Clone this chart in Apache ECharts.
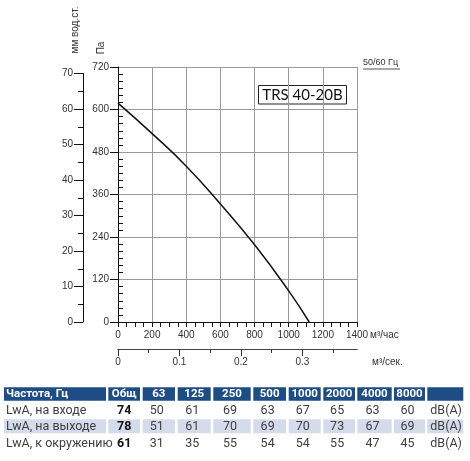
<!DOCTYPE html>
<html>
<head>
<meta charset="utf-8">
<script src="https://cdn.jsdelivr.net/npm/echarts@6/dist/echarts.min.js"></script>
<style>
  html, body { margin: 0; padding: 0; background: #fff; }
  #chart { width: 470px; height: 461px; }
</style>
</head>
<body>
<div id="chart"></div>
<script>
// характеристика вентилятора
const flowM3h = [0, 200, 400, 600, 800, 1000, 1120]
const pressurePa = [618, 532, 440, 333, 218, 88, 0]

// шкала м3/сек
const flowSecMajor = [0, 0.1, 0.2, 0.3]
const flowSecMinor = [0.05, 0.15, 0.25, 0.35]

// таблица шума
const tableHeader = ['Частота, Гц', 'Общ', '63', '125', '250', '500', '1000', '2000', '4000', '8000', '']
const rowNames = ['LwA, на входе', 'LwA, на выходе', 'LwA, к окружению']
const totalLw = [74, 78, 61]
const inletLw = [50, 61, 69, 63, 67, 65, 63, 60]
const outletLw = [51, 61, 70, 69, 70, 73, 67, 69]
const surroundLw = [31, 35, 55, 54, 54, 55, 47, 45]
const unitLabel = 'dB(A)'

const FONT = 'Liberation Sans'
const TFONT = 'Roboto'

const myChart = echarts.init(document.getElementById('chart'))

// колонки таблицы [x0, x1]
const cols = [
  [4, 106], [108.3, 140], [142.7, 175], [177.7, 210.7], [213.3, 250.7],
  [253.3, 286], [288.7, 320.7], [323.3, 355], [357.3, 391.7], [394, 425], [427.3, 463.3]
]
const headerRow = { y: 387.3, h: 13.4 }
const bodyRows = [{ y: 403, h: 14 }, { y: 419.3, h: 14 }, { y: 436, h: 14 }]

const buildTable = () => {
  const els = []
  cols.forEach((c, i) => {
    els.push({
      type: 'rect',
      shape: { x: c[0], y: headerRow.y, width: c[1] - c[0], height: headerRow.h },
      style: { fill: '#1d4d84' }
    })
    els.push({
      type: 'rect',
      shape: { x: c[0], y: bodyRows[1].y, width: c[1] - c[0], height: bodyRows[1].h },
      style: { fill: '#d4dbeb' }
    })
    els.push({
      type: 'text',
      x: i === 0 ? c[0] + 2 : (c[0] + c[1]) / 2,
      y: headerRow.y + headerRow.h / 2 + 0.5,
      style: {
        text: tableHeader[i],
        fill: '#fff',
        font: `bold 11.5px ${TFONT}`,
        align: i === 0 ? 'left' : 'center',
        verticalAlign: 'middle'
      }
    })
  })
  const bands = [inletLw, outletLw, surroundLw]
  bodyRows.forEach((r, ri) => {
    const cy = r.y + r.h / 2 + 0.5
    const cells = [rowNames[ri], totalLw[ri]].concat(bands[ri]).concat([unitLabel])
    cells.forEach((v, ci) => {
      const c = cols[ci]
      let x = (c[0] + c[1]) / 2 - 2
      let align = 'center'
      if (ci === 0) { x = c[0] + 2; align = 'left' }
      if (ci === 1) x = (c[0] + c[1]) / 2
      if (ci === cols.length - 1) { x = c[0] + 3; align = 'left' }
      els.push({
        type: 'text',
        x: x,
        y: cy,
        style: {
          text: String(v),
          fill: ci === 1 ? '#111' : '#404040',
          font: `${ci === 1 ? 'bold ' : ''}12.5px ${TFONT}`,
          align: align,
          verticalAlign: 'middle'
        }
      })
    })
  })
  return els
}

const labelStyle = { color: '#333', fontFamily: FONT, fontSize: 10, formatter: (v) => String(v) }
const hiddenAxis = (gridIndex) => ({ type: 'value', gridIndex, show: false, min: 0, max: 1 })
const secLine = { show: true, onZero: false, lineStyle: { color: '#444', width: 1 } }

const option = {
  animation: false,
  grid: [
    { left: 118, top: 67, width: 239, height: 255 }, // основная
    { left: 118, top: 67, width: 239, height: 255 }, // мелкие деления Па
    { left: 83, top: 73.5, width: 1, height: 248.5 }, // мм вод.ст.
    { left: 118, top: 339, width: 239, height: 10 }, // м3/сек
    { left: 118, top: 339, width: 239, height: 10 } // м3/сек мелкие
  ],
  xAxis: [
    {
      type: 'value', gridIndex: 0, min: 0, max: 1400, interval: 200,
      axisLine: { show: true, onZero: false, lineStyle: { color: '#111', width: 1 } },
      axisTick: { show: true, length: 5, lineStyle: { color: '#111' } },
      minorTick: { show: true, splitNumber: 4, length: 5, lineStyle: { color: '#111' } },
      axisLabel: Object.assign({ show: true, margin: 8 }, labelStyle),
      splitLine: { show: true, lineStyle: { color: '#9a9a9a', width: 1 } }
    },
    hiddenAxis(1),
    hiddenAxis(2),
    {
      type: 'value', gridIndex: 3, min: 0, max: 1400 / 3600,
      axisLine: secLine,
      axisTick: { show: true, length: 7, customValues: flowSecMajor, lineStyle: { color: '#333' } },
      axisLabel: Object.assign({ show: true, margin: 8, customValues: flowSecMajor }, labelStyle),
      splitLine: { show: false }
    },
    {
      type: 'value', gridIndex: 4, min: 0, max: 1400 / 3600,
      axisLine: secLine,
      axisTick: { show: true, length: 4, customValues: flowSecMinor, lineStyle: { color: '#333' } },
      axisLabel: { show: false },
      splitLine: { show: false }
    }
  ],
  yAxis: [
    {
      type: 'value', gridIndex: 0, min: 0, max: 720, interval: 120,
      axisLine: { show: true, onZero: false, lineStyle: { color: '#111' } },
      axisTick: { show: true, length: 8, lineStyle: { color: '#111' } },
      axisLabel: Object.assign({ show: true, margin: 9 }, labelStyle),
      splitLine: { show: true, lineStyle: { color: '#9a9a9a', width: 1 } }
    },
    {
      type: 'value', gridIndex: 1, min: 0, max: 720, interval: 120,
      axisLine: { show: false, onZero: false },
      axisTick: { show: false, inside: true },
      minorTick: { show: true, splitNumber: 6, length: 5, lineStyle: { color: '#111' } },
      axisLabel: { show: false },
      splitLine: { show: false }
    },
    {
      type: 'value', gridIndex: 2, min: 0, max: 70, interval: 10,
      axisLine: { show: true, onZero: false, lineStyle: { color: '#111' } },
      axisTick: { show: true, length: 9, lineStyle: { color: '#111' } },
      minorTick: { show: true, splitNumber: 2, length: 5, lineStyle: { color: '#111' } },
      axisLabel: Object.assign({ show: true, margin: 10 }, labelStyle),
      splitLine: { show: false }
    },
    {
      // линия шкалы м3/сек через нижнюю линию сетки
      type: 'value', gridIndex: 3, min: 0, max: 1, interval: 1,
      axisLine: { show: false },
      axisTick: { show: false },
      axisLabel: { show: false },
      splitLine: { show: true, showMinLine: true, showMaxLine: false, lineStyle: { color: '#444', width: 1 } }
    },
    hiddenAxis(4)
  ],
  series: [
    {
      type: 'line',
      xAxisIndex: 0,
      yAxisIndex: 0,
      smooth: true,
      symbol: 'none',
      lineStyle: { color: '#111', width: 1.5 },
      data: flowM3h.map((q, i) => [q, pressurePa[i]])
    }
  ],
  graphic: [
    {
      type: 'text', x: 75, y: 30, rotation: Math.PI / 2,
      style: { text: 'мм вод.ст.', fill: '#333', font: `10px ${FONT}`, align: 'center', verticalAlign: 'middle' }
    },
    {
      type: 'text', x: 101.5, y: 48, rotation: Math.PI / 2,
      style: { text: 'Па', fill: '#333', font: `10px ${FONT}`, align: 'center', verticalAlign: 'middle' }
    },
    {
      type: 'text', x: 363, y: 63,
      style: { text: '50/60 Гц', fill: '#333', font: `9px ${FONT}`, align: 'left', verticalAlign: 'middle' }
    },
    {
      type: 'line', shape: { x1: 363, y1: 69, x2: 400, y2: 69 },
      style: { stroke: '#555', lineWidth: 1 }
    },
    {
      type: 'rect', shape: { x: 258.5, y: 85.5, width: 88, height: 18.5 },
      style: { fill: '#fff', stroke: '#222', lineWidth: 1 }
    },
    {
      type: 'text', x: 302.5, y: 95,
      style: { text: 'TRS 40-20B', fill: '#111', font: `15px Lato`, align: 'center', verticalAlign: 'middle' }
    },
    {
      type: 'text', x: 370, y: 335,
      style: { text: 'м³/час', fill: '#333', font: `10px ${FONT}`, align: 'left', verticalAlign: 'middle' }
    },
    {
      type: 'text', x: 372, y: 362,
      style: { text: 'м³/сек.', fill: '#333', font: `10px ${FONT}`, align: 'left', verticalAlign: 'middle' }
    }
  ].concat(buildTable())
}

myChart.setOption(option)
</script>
</body>
</html>
